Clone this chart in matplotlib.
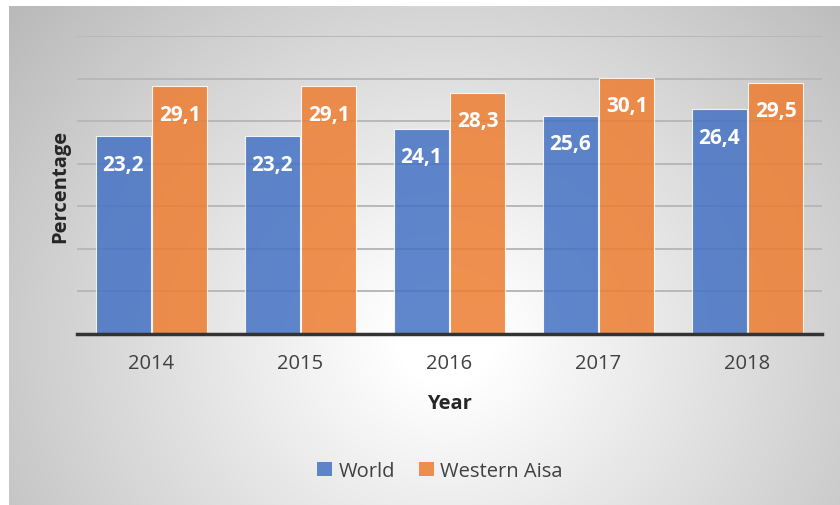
import numpy as np
import matplotlib
matplotlib.use('Agg')
from matplotlib import pyplot as plt
from matplotlib.patches import Patch

plt.rcParams['font.family'] = ['Open Sans', 'DejaVu Sans']

years = ['2014', '2015', '2016', '2017', '2018']
world = [23.2, 23.2, 24.1, 25.6, 26.4]
western = [29.1, 29.1, 28.3, 30.1, 29.5]
series_names = ['World', 'Western Aisa']
colors = ['#4472C4', '#ED7D31']

W, H = 840, 506
fig = plt.figure(figsize=(W / 100, H / 100), dpi=100)

# radial grey background of the chart area
bg = fig.add_axes([9 / W, 0, 1 - 9 / W, 1 - 7 / H], zorder=-10)
yy, xx = np.mgrid[7:506, 9:840]
r = np.hypot(xx - 445, (yy - 340) * 1.1)
v = 1 - 0.27 * np.clip((r - 50) / 510, 0, 1)
img = np.dstack([v, v, v])
bg.imshow(img, aspect='auto', extent=[0, 1, 0, 1], interpolation='bilinear')
bg.axis('off')

ax = fig.add_axes([77 / W, 1 - 335 / H, (822 - 77) / W, (335 - 37) / H])
ax.patch.set_alpha(0)

x = np.arange(len(years))
w = 0.37
b1 = ax.bar(x - 0.19, world, width=w, color=colors[0], alpha=0.85,
            edgecolor='white', linewidth=0.8, zorder=3)
b2 = ax.bar(x + 0.19, western, width=w, color=colors[1], alpha=0.85,
            edgecolor='white', linewidth=0.8, zorder=3)

for bars, vals in [(b1, world), (b2, western)]:
    for rect, val in zip(bars, vals):
        ax.annotate(f'{val:.1f}'.replace('.', ','),
                    (rect.get_x() + rect.get_width() / 2, val),
                    xytext=(0, -20), textcoords='offset points',
                    ha='center', va='center', color='white',
                    fontsize=15, fontweight='bold', zorder=5)

ax.set_xlim(-0.5, 4.5)
ax.set_ylim(0, 35)
ax.set_yticks(np.arange(5, 36, 5))
ax.yaxis.grid(True, color='#B8B8B8', linewidth=1.4, zorder=1)
ax.set_axisbelow(True)
ax.tick_params(axis='y', left=False, labelleft=False)
ax.set_xticks(x)
ax.set_xticklabels(years, fontsize=14.5, color='#404040')
ax.tick_params(axis='x', length=0, pad=14)
for s in ['top', 'right', 'left']:
    ax.spines[s].set_visible(False)
ax.spines['bottom'].set_color('#333333')
ax.spines['bottom'].set_linewidth(2.5)
ax.spines['bottom'].set_zorder(6)

fig.text(449 / W, 1 - 404 / H, 'Year', ha='center', va='center',
         fontsize=14.5, fontweight='bold', color='#262626')
fig.text(60 / W, 1 - 186 / H, 'Percentage', ha='center', va='center',
         rotation=90, fontsize=14.5, fontweight='bold', color='#262626')

handles = [Patch(facecolor=c, alpha=0.85) for c in colors]
fig.legend(handles, series_names, loc='center', ncol=2,
           bbox_to_anchor=(440 / W, 1 - 472 / H), frameon=False,
           fontsize=14.5, handlelength=0.75, handleheight=0.75,
           handletextpad=0.3, columnspacing=1.2, labelcolor='#404040')

fig.savefig('out.png', dpi=100)
